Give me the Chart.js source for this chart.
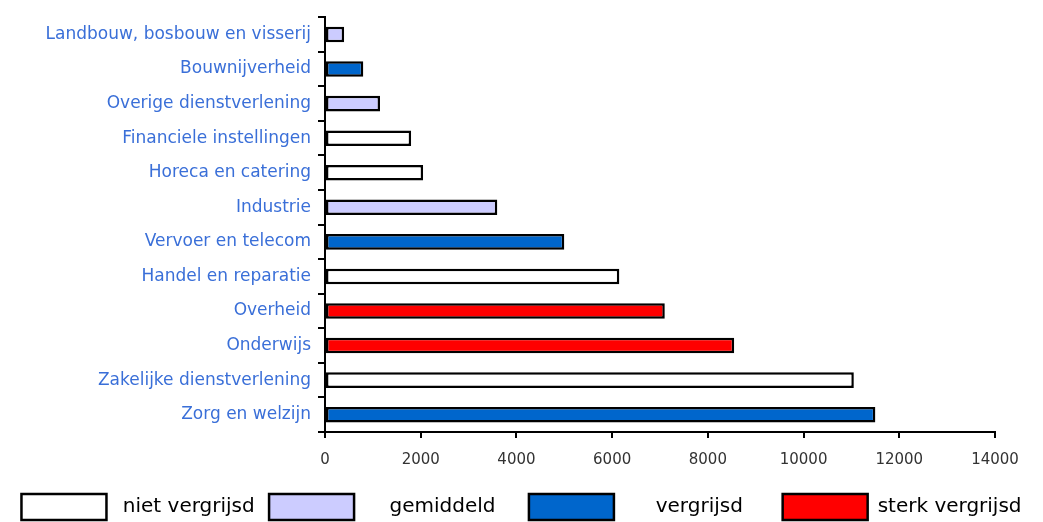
<!DOCTYPE html>
<html>
<head>
<meta charset="utf-8">
<script src="https://cdn.jsdelivr.net/npm/chart.js@4/dist/chart.umd.min.js"></script>
<style>
  html, body { margin: 0; padding: 0; background: #ffffff; }
  #wrap { width: 1043px; height: 522px; }
</style>
</head>
<body>
<div id="wrap"><canvas id="c" width="1043" height="522"></canvas></div>
<script>
// Sectors, top to bottom
const categories = [
  'Landbouw, bosbouw en visserij',
  'Bouwnijverheid',
  'Overige dienstverlening',
  'Financiele instellingen',
  'Horeca en catering',
  'Industrie',
  'Vervoer en telecom',
  'Handel en reparatie',
  'Overheid',
  'Onderwijs',
  'Zakelijke dienstverlening',
  'Zorg en welzijn'
];

// Values per sector
const values = [400, 800, 1150, 1800, 2050, 3600, 5000, 6150, 7100, 8550, 11050, 11500];

// Ageing class of each sector (index into groupNames / groupColors)
const groupOfSector = [1, 2, 1, 0, 0, 1, 2, 0, 3, 3, 0, 2];

// Ageing classes shown in the legend
const groupNames = ['niet vergrijsd', 'gemiddeld', 'vergrijsd', 'sterk vergrijsd'];
const groupColors = ['#ffffff', '#ccccff', '#0066cc', '#ff0000'];

// Extra spacing around legend texts
const legendLead = [1, 4, 5, 0];
const legendTrail = [1, 4, 5, 0];

// X axis ticks
const xTicks = [0, 2000, 4000, 6000, 8000, 10000, 12000, 14000];

const FONT = 'DejaVu Sans';

new Chart(document.getElementById('c'), {
  type: 'bar',
  data: {
    labels: categories,
    datasets: [{
      data: values,
      backgroundColor: groupOfSector.map(g => groupColors[g]),
      borderColor: '#000000',
      borderWidth: 2.5,
      borderSkipped: false,
      barPercentage: 0.45,
      categoryPercentage: 1
    }]
  },
  options: {
    indexAxis: 'y',
    responsive: false,
    animation: false,
    layout: { padding: { top: 12, right: 0, left: 0, bottom: -8 } },
    plugins: {
      tooltip: { enabled: false },
      legend: {
        position: 'bottom',
        align: 'center',
        labels: {
          boxWidth: 85,
          boxHeight: 26,
          padding: 8,
          color: '#111111',
          font: { family: FONT, size: 20 },
          generateLabels: () => groupNames.map((name, i) => ({
            text: ' '.repeat(legendLead[i]) + name + ' '.repeat(legendTrail[i]),
            fillStyle: groupColors[i],
            strokeStyle: '#000000',
            lineWidth: 2.5,
            hidden: false,
            datasetIndex: 0
          }))
        }
      }
    },
    scales: {
      x: {
        type: 'linear',
        min: 0,
        max: 14000,
        afterBuildTicks: scale => { scale.ticks = xTicks.map(v => ({ value: v })); },
        afterFit: scale => { scale.height = 54; scale.paddingRight = 48; },
        border: { display: true, color: '#000000', width: 2 },
        grid: { drawOnChartArea: false, drawTicks: true, tickLength: 6, color: '#000000', lineWidth: 2 },
        ticks: {
          color: '#333333',
          padding: 13,
          maxRotation: 0,
          callback: v => String(v),
          font: { family: FONT, size: 15 }
        }
      },
      y: {
        type: 'category',
        offset: true,
        afterFit: scale => { scale.width = 325; },
        border: { display: true, color: '#000000', width: 2 },
        grid: { offset: true, drawOnChartArea: false, drawTicks: true, tickLength: 7, color: '#000000', lineWidth: 2 },
        ticks: {
          color: '#3a6fd8',
          padding: 7,
          autoSkip: false,
          font: { family: FONT, size: 17 }
        }
      }
    }
  }
});
</script>
</body>
</html>
